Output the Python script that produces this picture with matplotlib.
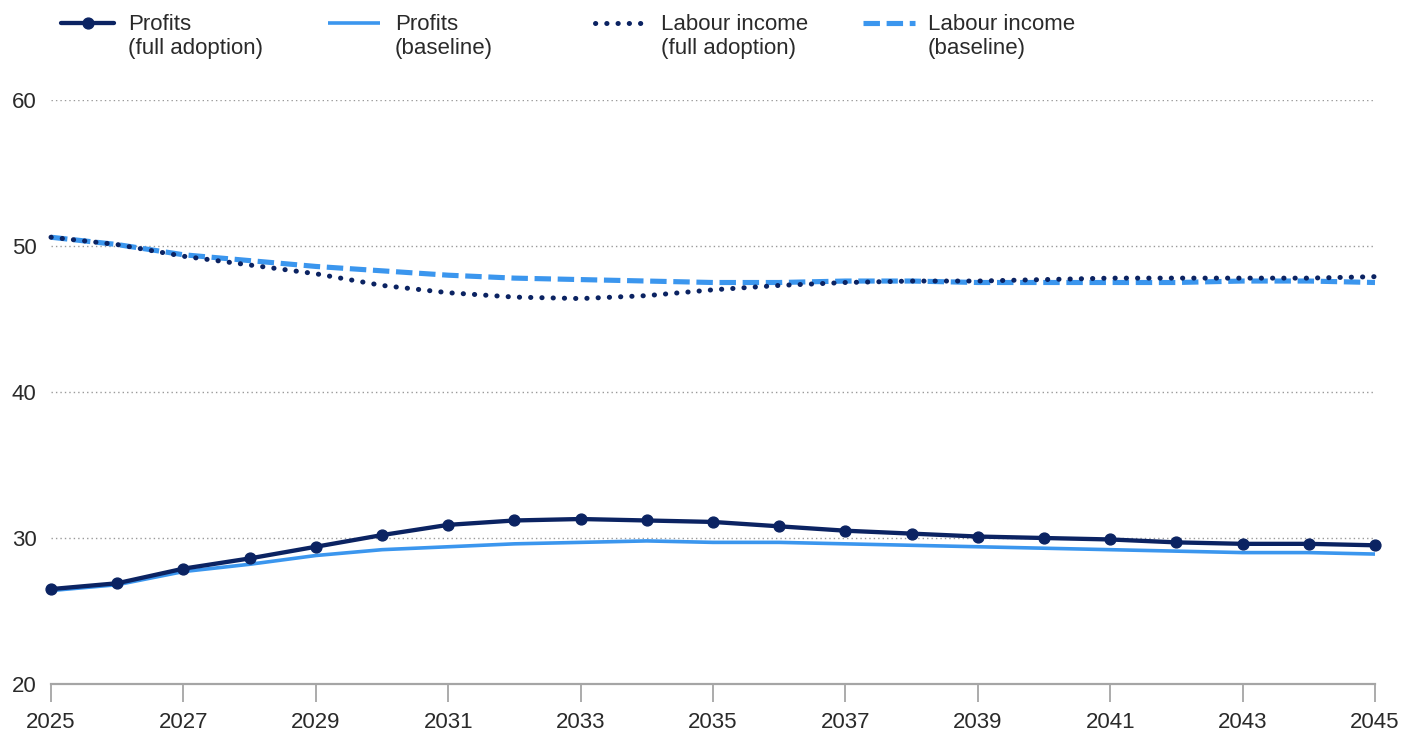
import matplotlib
matplotlib.use("Agg")
import matplotlib.pyplot as plt
from matplotlib.lines import Line2D

plt.rcParams["font.family"] = ["Liberation Sans", "DejaVu Sans"]

years = list(range(2025, 2046))
profits_full = [26.5, 26.9, 27.9, 28.6, 29.4, 30.2, 30.9, 31.2, 31.3, 31.2, 31.1,
                30.8, 30.5, 30.3, 30.1, 30.0, 29.9, 29.7, 29.6, 29.6, 29.5]
profits_base = [26.4, 26.8, 27.7, 28.2, 28.8, 29.2, 29.4, 29.6, 29.7, 29.8, 29.7,
                29.7, 29.6, 29.5, 29.4, 29.3, 29.2, 29.1, 29.0, 29.0, 28.9]
labour_full = [50.6, 50.1, 49.3, 48.7, 48.1, 47.3, 46.8, 46.5, 46.4, 46.6, 47.0,
               47.3, 47.5, 47.6, 47.6, 47.7, 47.8, 47.8, 47.8, 47.8, 47.9]
labour_base = [50.6, 50.1, 49.4, 49.0, 48.6, 48.3, 48.0, 47.8, 47.7, 47.6, 47.5,
               47.5, 47.6, 47.6, 47.5, 47.5, 47.5, 47.5, 47.6, 47.6, 47.5]
x_ticks = list(range(2025, 2046, 2))
y_ticks = [20, 30, 40, 50, 60]
legend_labels = ["Profits\n(full adoption)", "Profits\n(baseline)",
                 "Labour income\n(full adoption)", "Labour income\n(baseline)"]

NAVY = "#0B2362"
BLUE = "#3B96EE"
GRID = "#9A9A9A"
TEXT = "#2A2A2A"

W, H = 1417, 738
fig = plt.figure(figsize=(W / 100, H / 100), dpi=100)
ax = fig.add_axes([51 / W, 1 - 684 / H, (1375 - 51) / W, (684 - 100) / H])

styles = [
    dict(color=NAVY, lw=3.1, marker="o", ms=7.8, solid_capstyle="round", zorder=5),
    dict(color=BLUE, lw=2.6, solid_capstyle="butt", zorder=4),
    dict(color=NAVY, lw=3.6, linestyle=(0, (0.05, 2.2)), dash_capstyle="round", zorder=3),
    dict(color=BLUE, lw=3.7, linestyle=(0, (3.2, 1.3)), dash_capstyle="butt", zorder=2),
]

ax.plot(years, labour_base, clip_on=False, **styles[3])
ax.plot(years, labour_full, clip_on=False, **styles[2])
ax.plot(years, profits_base, clip_on=False, **styles[1])
ax.plot(years, profits_full, clip_on=False, **styles[0])

ax.set_xlim(2025, 2045)
ax.set_ylim(20, 60)
ax.set_xticks(x_ticks)
ax.set_xticklabels([str(t) for t in x_ticks])
ax.set_yticks(y_ticks)

for yv in y_ticks[1:]:
    ax.axhline(yv, color=GRID, lw=1.0, linestyle=(0, (1, 2.2)), zorder=1)

for side in ["top", "right", "left"]:
    ax.spines[side].set_visible(False)
ax.spines["bottom"].set_color("#A5A5A5")
ax.spines["bottom"].set_linewidth(1.6)

ax.tick_params(axis="x", direction="out", length=13, width=1.3, color="#A5A5A5",
               pad=7, labelsize=16, labelcolor=TEXT)
ax.tick_params(axis="y", length=0, pad=10.5, labelsize=16, labelcolor=TEXT)

# Legend drawn across the top in figure coordinates
handle_x = [(61, 114), (328, 380), (595, 646), (863, 915)]
text_x = [128, 395, 661, 928]
hy = 1 - 23 / H
for (x0, x1), tx, st, lab in zip(handle_x, text_x, styles, legend_labels):
    kw = dict(st)
    kw.pop("zorder", None)
    marker = kw.pop("marker", None)
    ms = kw.pop("ms", None)
    fig.add_artist(Line2D([x0 / W, x1 / W], [hy, hy], transform=fig.transFigure, **kw))
    if marker:
        fig.add_artist(Line2D([(x0 + x1) / 2 / W], [hy], transform=fig.transFigure,
                              marker=marker, ms=ms, color=st["color"], lw=0))
    l1, l2 = lab.split("\n")
    fig.text(tx / W, 1 - 30 / H, l1, fontsize=16, color=TEXT, va="baseline", ha="left")
    fig.text(tx / W, 1 - 54 / H, l2, fontsize=16, color=TEXT, va="baseline", ha="left")

fig.savefig("out.png", dpi=100, facecolor="white")
